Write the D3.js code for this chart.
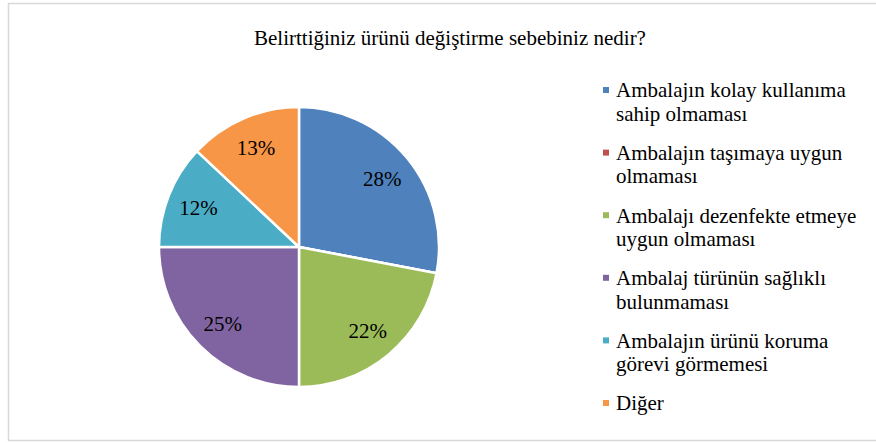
<!DOCTYPE html>
<html><head><meta charset="utf-8">
<script src="https://cdn.jsdelivr.net/npm/d3@7"></script>
<style>body{margin:0;background:#fff}</style>
</head><body>
<svg width="876" height="443"></svg>
<script>
const title = "Belirttiğiniz ürünü değiştirme sebebiniz nedir?";
const categories = [
  ["Ambalajın kolay kullanıma", "sahip olmaması"],
  ["Ambalajın taşımaya uygun", "olmaması"],
  ["Ambalajı dezenfekte etmeye", "uygun olmaması"],
  ["Ambalaj türünün sağlıklı", "bulunmaması"],
  ["Ambalajın ürünü koruma", "görevi görmemesi"],
  ["Diğer"]
];
const values = [28, 0, 22, 25, 12, 13];
const colors = ["#4F81BD", "#C0504D", "#9BBB59", "#8064A2", "#4BACC6", "#F79646"];
const FONT = '"Liberation Serif"';

const svg = d3.select("svg");
svg.append("rect").attr("x", 8.5).attr("y", 3.5).attr("width", 880).attr("height", 437)
  .attr("fill", "#fff").attr("stroke", "#d9d9d9").attr("stroke-width", 1.5);

svg.append("text").attr("x", 450).attr("y", 45).attr("text-anchor", "middle")
  .style("font-family", FONT).attr("font-size", 21).attr("fill", "#000").text(title);

const cx = 299, cy = 247, r = 140;
const pie = d3.pie().sort(null).value(d => d)(values);
const arc = d3.arc().innerRadius(0).outerRadius(r);
const labelArc = d3.arc().innerRadius(108).outerRadius(108);
const g = svg.append("g").attr("transform", `translate(${cx},${cy})`);
g.selectAll("path").data(pie).join("path")
  .attr("d", arc).attr("fill", (d, i) => colors[i])
  .attr("stroke", "#fff").attr("stroke-width", 2.5).attr("stroke-linejoin", "miter");
g.selectAll("text").data(pie.filter(d => d.value > 0)).join("text")
  .attr("transform", d => `translate(${labelArc.centroid(d)})`)
  .attr("text-anchor", "middle").attr("dy", "0.35em")
  .style("font-family", FONT).attr("font-size", 21).attr("fill", "#000")
  .text(d => d.value + "%");

const leg = svg.append("g");
const itemY = d3.scaleLinear().domain([0, 5]).range([90, 403]);
categories.forEach((lines, i) => {
  const y = itemY(i);
  leg.append("rect").attr("x", 603).attr("y", y - 3).attr("width", 6).attr("height", 6).attr("fill", colors[i]);
  const t = leg.append("text").attr("x", 616).attr("y", y)
    .style("font-family", FONT).attr("font-size", 21).attr("fill", "#000");
  lines.forEach((l, j) => {
    t.append("tspan").attr("x", 616).attr("dy", j === 0 ? "0.35em" : 23.5).text(l);
  });
});
</script>
</body></html>
